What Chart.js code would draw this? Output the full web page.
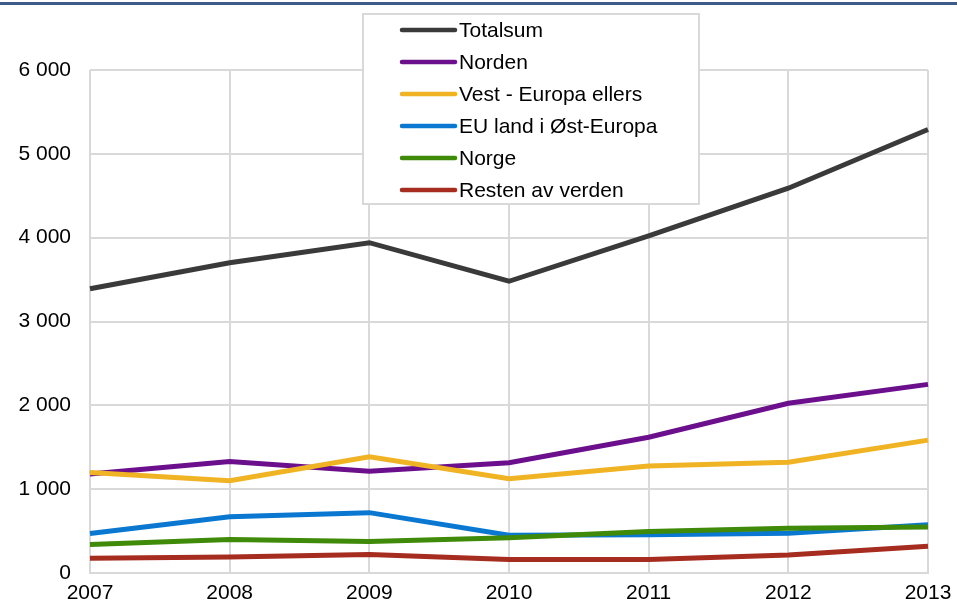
<!DOCTYPE html>
<html>
<head>
<meta charset="utf-8">
<script src="https://cdn.jsdelivr.net/npm/chart.js@4"></script>
<style>
html,body{margin:0;padding:0;background:#fff;}
#wrap{position:relative;width:957px;height:609px;}
</style>
</head>
<body>
<div id="wrap"><canvas id="c" width="957" height="609"></canvas></div>
<script>
const years = ["2007","2008","2009","2010","2011","2012","2013"];
const seriesNames = ["Totalsum","Norden","Vest - Europa ellers","EU land i Øst-Europa","Norge","Resten av verden"];
const totalsum = [3390, 3700, 3940, 3480, 4020, 4590, 5290];
const norden = [1180, 1330, 1215, 1315, 1620, 2025, 2250];
const vestEuropa = [1200, 1100, 1385, 1125, 1275, 1320, 1585];
const euOst = [470, 670, 720, 450, 455, 475, 575];
const norge = [340, 400, 375, 420, 495, 535, 550];
const resten = [175, 190, 220, 160, 160, 215, 320];
const yTicks = [0, 1000, 2000, 3000, 4000, 5000, 6000];

const colors = ["#3a3a3a","#6c0f8c","#f0b324","#0a78d0","#3f8a08","#a52c1e"];
const values = [totalsum, norden, vestEuropa, euOst, norge, resten];
const FONT = "Liberation Sans, Arial, sans-serif";

const topBand = {
  id: 'topBand',
  beforeDraw(chart){
    const ctx = chart.ctx;
    ctx.save();
    ctx.fillStyle = '#fff';
    ctx.fillRect(0,0,chart.width,chart.height);
    ctx.fillStyle = '#3e5a8a';
    ctx.fillRect(0,2,chart.width,3);
    ctx.restore();
  }
};

const boxLegend = {
  id: 'boxLegend',
  afterDraw(chart){
    const ctx = chart.ctx;
    ctx.save();
    ctx.fillStyle = '#fff';
    ctx.fillRect(363,14,336,190);
    ctx.strokeStyle = '#d9d9d9';
    ctx.lineWidth = 2;
    ctx.strokeRect(363,14,336,190);
    ctx.font = "21px " + FONT;
    ctx.textBaseline = 'middle';
    ctx.textAlign = 'left';
    chart.data.datasets.forEach((ds,i)=>{
      const y = 30 + i*32;
      ctx.strokeStyle = ds.borderColor;
      ctx.lineWidth = 4.5;
      ctx.lineCap = 'round';
      ctx.beginPath();
      ctx.moveTo(402,y);
      ctx.lineTo(455,y);
      ctx.stroke();
      ctx.fillStyle = '#000';
      ctx.fillText(ds.label, 459, y+1);
    });
    ctx.restore();
  }
};

new Chart(document.getElementById('c'), {
  type: 'line',
  data: {
    labels: years,
    datasets: seriesNames.map((n,i)=>({
      label: n,
      data: values[i],
      borderColor: colors[i],
      backgroundColor: colors[i],
      borderWidth: 5,
      pointRadius: 0,
      tension: 0,
      fill: false,
      order: 5 - i,
      clip: false
    }))
  },
  options: {
    responsive: false,
    animation: false,
    layout: { padding: { top: 70, right: 29, left: 0, bottom: 0 } },
    plugins: { legend: { display: false }, tooltip: { enabled: false } },
    scales: {
      x: {
        type: 'category',
        offset: false,
        grid: { color: '#d9d9d9', lineWidth: 2, drawTicks: false },
        border: { color: '#d9d9d9', width: 2 },
        ticks: { color: '#000', font: { family: FONT, size: 21 }, padding: 8, maxRotation: 0, autoSkip: false },
        afterFit(s){ s.height = 36; s.paddingRight = 0; s.paddingLeft = 0; }
      },
      y: {
        min: 0, max: 6000,
        afterBuildTicks(s){ s.ticks = yTicks.map(v=>({value:v})); },
        grid: { color: '#d9d9d9', lineWidth: 2, drawTicks: false },
        border: { display: false },
        ticks: {
          color: '#000', font: { family: FONT, size: 21 }, padding: 19,
          callback: v => v === 0 ? '0' : String(v).replace(/\B(?=(\d{3})+(?!\d))/g, ' ')
        },
        afterFit(s){ s.width = 90; s.paddingTop = 0; s.paddingBottom = 0; }
      }
    }
  },
  plugins: [topBand, boxLegend]
});
</script>
</body>
</html>
